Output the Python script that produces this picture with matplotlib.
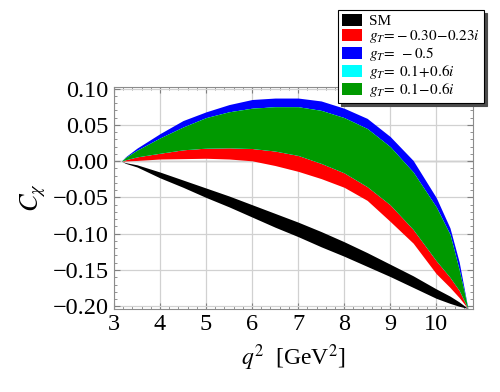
import numpy as np
import matplotlib
matplotlib.use('Agg')
import matplotlib.pyplot as plt
from matplotlib.ticker import MultipleLocator

plt.rcParams['font.family'] = ['Liberation Serif', 'DejaVu Serif']
plt.rcParams['mathtext.fontset'] = 'stix'

# q^2 grid
q2 = [3.16, 3.25, 3.5, 4.0, 4.5, 5.0, 5.5, 6.0, 6.5, 7.0, 7.5, 8.0, 8.5, 9.0, 9.5, 10.0, 10.3, 10.5, 10.69]

# SM band
sm_hi = [0, -0.002, -0.005, -0.015, -0.026, -0.037, -0.048, -0.060, -0.072, -0.084, -0.097,
         -0.111, -0.126, -0.142, -0.158, -0.176, -0.186, -0.194, -0.203]
sm_lo = [0, -0.003, -0.008, -0.023, -0.036, -0.050, -0.063, -0.077, -0.091, -0.104, -0.118,
         -0.131, -0.145, -0.159, -0.174, -0.189, -0.196, -0.200, -0.203]

# g_T = -0.30 - 0.23i
red_hi = [0, 0.002, 0.006, 0.011, 0.0157, 0.018, 0.0185, 0.0175, 0.014, 0.008, -0.003,
          -0.016, -0.035, -0.060, -0.094, -0.137, -0.160, -0.178, -0.203]
red_lo = [0, 0.0003, 0.001, 0.003, 0.0035, 0.004, 0.003, 0.0005, -0.006, -0.014, -0.024,
          -0.036, -0.054, -0.083, -0.113, -0.155, -0.174, -0.188, -0.203]

# g_T = -0.5 (only the top edge shows)
blue_hi = [0, 0.006, 0.018, 0.038, 0.056, 0.068, 0.078, 0.085, 0.087, 0.087, 0.083,
           0.073, 0.059, 0.034, 0.001, -0.050, -0.092, -0.139, -0.203]

# g_T = 0.1 +/- 0.6i (identical bands, green on top)
green_hi = [0, 0.005, 0.015, 0.032, 0.047, 0.060, 0.068, 0.073, 0.075, 0.075, 0.070,
            0.060, 0.045, 0.020, -0.015, -0.063, -0.101, -0.150, -0.203]
green_lo = red_hi

labels = ['SM', r'$g_T\!=\!-0.30\!-\!0.23i$', r'$g_T\!=\;-0.5$',
          r'$g_T\!=\;0.1\!+\!0.6i$', r'$g_T\!=\;0.1\!-\!0.6i$']
colors = ['black', '#ff0000', '#0000ff', '#00ffff', '#009900']

fig = plt.figure(figsize=(5, 3.92), dpi=100)
ax = fig.add_axes([0.228, 0.212, 0.718, 0.566])

h1 = ax.fill_between(q2, sm_lo, sm_hi, color=colors[0], lw=0)
h2 = ax.fill_between(q2, red_lo, red_hi, color=colors[1], lw=0)
h3 = ax.fill_between(q2, green_hi, blue_hi, color=colors[2], lw=0)
h4 = ax.fill_between(q2, green_lo, green_hi, color=colors[3], lw=0)
h5 = ax.fill_between(q2, green_lo, green_hi, color=colors[4], lw=0)

ax.axhline(0, color='0.45', lw=0.9, zorder=0.5)
ax.set_xlim(3, 10.8)
ax.set_ylim(-0.2036, 0.1022)
ax.xaxis.set_major_locator(MultipleLocator(1))
ax.xaxis.set_minor_locator(MultipleLocator(0.2))
ax.yaxis.set_major_locator(MultipleLocator(0.05))
ax.yaxis.set_minor_locator(MultipleLocator(0.01))
ax.yaxis.set_major_formatter(plt.FuncFormatter(lambda v, p: f'{v:.2f}'.replace('-', '\u2212')))
ax.grid(True, which='major', color='0.82', lw=0.9, zorder=0)
ax.set_axisbelow(True)
ax.tick_params(which='both', direction='in', top=True, right=True, color='0.5')
ax.tick_params(which='major', length=4, labelsize=17.5, pad=4)
ax.tick_params(which='minor', length=2)
for s in ax.spines.values():
    s.set_color('0.55')
    s.set_linewidth(0.8)

ax.set_xlabel(r'$q^2$  [GeV$^2$]', fontsize=17, labelpad=5)
ax.set_ylabel(r'$C_\chi$', fontsize=19, labelpad=3)

leg = fig.legend([h1, h2, h3, h4, h5], labels, loc='upper left',
                 bbox_to_anchor=(0.676, 0.975), fontsize=11, frameon=True,
                 fancybox=False, edgecolor='black', framealpha=1,
                 shadow={'color': '0.3', 'alpha': 1},
                 handlelength=1.3, handleheight=0.9, handletextpad=0.5,
                 labelspacing=0.0, borderpad=0.25, borderaxespad=0)
leg.get_frame().set_linewidth(0.8)

fig.savefig('out.png', dpi=100)
